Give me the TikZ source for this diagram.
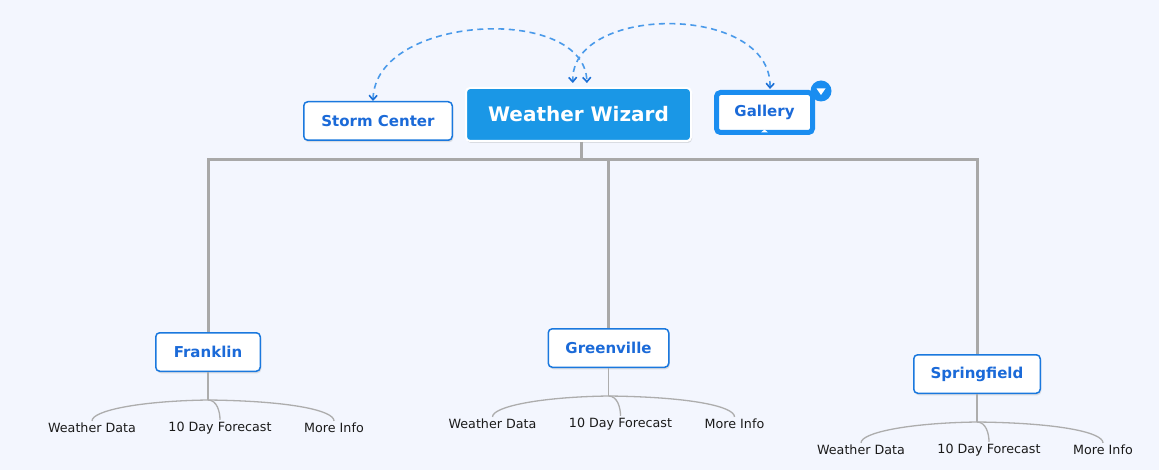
\documentclass[tikz,border=0pt]{standalone}
\usepackage{fontspec}
\setmainfont{DejaVu Sans}
\usetikzlibrary{positioning,calc,arrows.meta,shadows}

\definecolor{bgpaper}{HTML}{F3F6FE}
\definecolor{wizblue}{HTML}{1A97E6}
\definecolor{topicblue}{HTML}{1A78DE}
\definecolor{textblue}{HTML}{1B6AD8}
\definecolor{galblue}{HTML}{1A8DF0}
\definecolor{linkblue}{HTML}{4A9AEA}
\definecolor{tipblue}{HTML}{1B6FD6}
\definecolor{branchgray}{HTML}{A8A8A8}
\definecolor{twiggray}{HTML}{ADADAD}
\definecolor{leafink}{HTML}{1A1A1A}

\begin{document}
\begin{tikzpicture}[x=1pt,y=-1pt,
  softshadow/.style={drop shadow={opacity=0.22,shadow xshift=1pt,shadow yshift=-2pt}},
  wizard/.style={draw=white,line width=2pt,fill=wizblue,rounded corners=4pt,
    text=white,font=\fontsize{20}{24}\selectfont\bfseries,inner sep=0pt,
    minimum width=225,minimum height=53,softshadow},
  topic/.style={draw=topicblue,line width=1.5pt,fill=white,rounded corners=4pt,
    text=textblue,font=\fontsize{15}{18}\selectfont\bfseries,inner sep=0pt,
    minimum height=38.5,softshadow},
  picked/.style={topic,draw=galblue,line width=5pt,minimum width=96,minimum height=40},
  badge/.style={circle,fill=galblue,inner sep=0pt,minimum size=21},
  leaf/.style={text=leafink,font=\fontsize{12.7}{15}\selectfont,inner sep=2pt},
  trunk/.style={draw=branchgray,line width=3pt},
  twig/.style={draw=twiggray,line width=1.3pt},
  link/.style={draw=linkblue,line width=1.6pt,dash pattern=on 6pt off 4.5pt,
    {Straight Barb[length=4.5pt,width=8pt,line width=1.6pt,color=tipblue]}-{Straight Barb[length=4.5pt,width=8pt,line width=1.6pt,color=tipblue]}}
]
\useasboundingbox[fill=bgpaper] (0,0) rectangle (1159,470);

\coordinate (hub) at (581,160);

% main nodes
\node[wizard] (wiz) at (578.5,114.5) {Weather Wizard};
\node[topic,minimum width=148.5] (storm) at (378,121) {Storm Center};
\node[picked] (gallery) at (764.5,112.5) {\raisebox{-3pt}{Gallery}};
\node[badge] (galbadge) at ([xshift=6,yshift=-1]gallery.north east) {};
\fill[white] ($(galbadge.center)+(-4.5,-2.5)$) -- ++(9,0) -- ++(-4.5,6.5) -- cycle;
\fill[white] ($(gallery.south)+(-3.5,-2.5)$) -- ++(7,0) -- ++(-3.5,-3) -- cycle;

% cities
\node[topic,minimum width=104.5] (franklin) at (208,352) {Franklin};
\node[topic,minimum width=120.5] (greenville) at (608.5,348) {Greenville};
\node[topic,minimum width=126.5] (springfield) at (977,374) {Springfield};

\draw[trunk] (wiz.south -| hub) -- (hub);
\draw[trunk] (franklin.north) |- (hub) -| (springfield.north);
\draw[trunk] (greenville.north) -- (greenville.north |- hub);

% leaves under each city
\foreach \c in {franklin,greenville,springfield}{
  \coordinate (\c-hub) at ($(\c.south)+(0,28)$);
  \node[leaf] (\c-data) at ($(\c.south)+(-116,56)$) {Weather Data};
  \node[leaf] (\c-fcst) at ($(\c.south)+(12,56)$) {10 Day Forecast};
  \node[leaf] (\c-info) at ($(\c.south)+(126,56)$) {More Info};
  \draw[twig] (\c.south) -- (\c-hub);
  \draw[twig] (\c-hub) .. controls +(-70,1) and +(0,-10) .. (\c-data.north);
  \draw[twig] (\c-hub) .. controls +(9,0) and +(0,-8) .. (\c-fcst.north);
  \draw[twig] (\c-hub) .. controls +(85,1) and +(0,-10) .. (\c-info.north);
}

% dashed relations
\draw[link,shorten >=4pt] ([xshift=-5]storm.north) .. controls +(2,-87) and +(-2,-83) .. ([xshift=8.5]wiz.north);
\draw[link,shorten <=1pt,shorten >=4pt] ([xshift=5.5]gallery.north) .. controls +(2,-87) and +(-3,-83) .. ([xshift=-5.5]wiz.north);

\end{tikzpicture}
\end{document}
